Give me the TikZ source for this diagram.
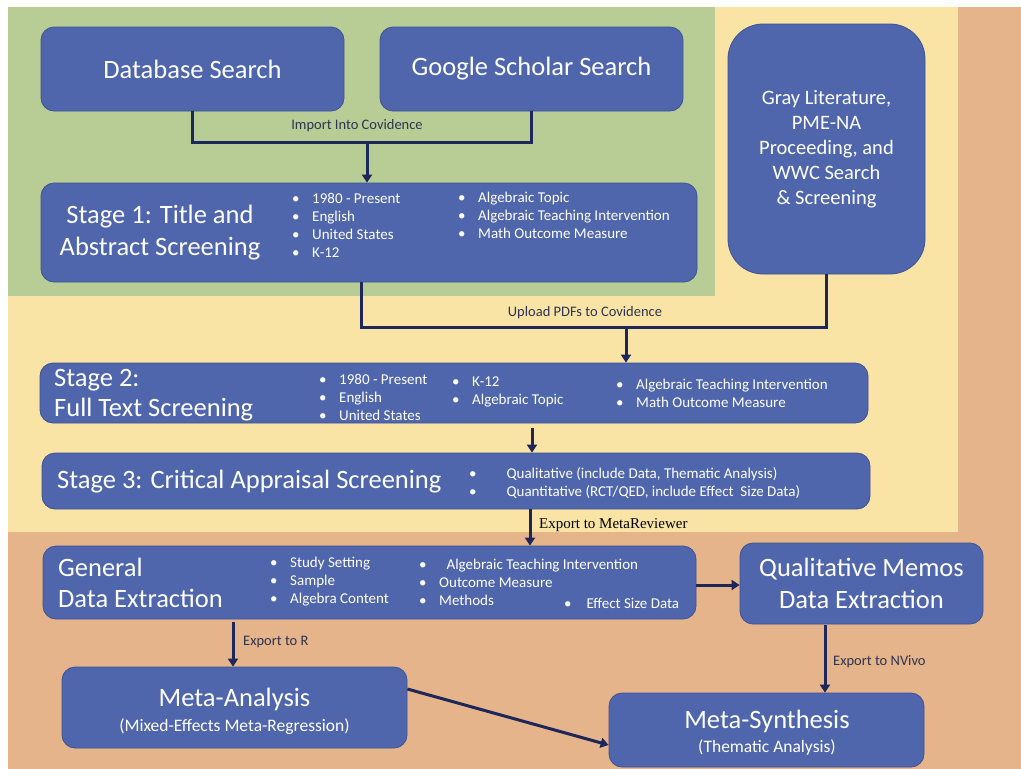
\documentclass[tikz,border=0pt]{standalone}
\usepackage{fontspec}
\setmainfont{Carlito}
\newfontfamily\serifface{Liberation Serif}
\usetikzlibrary{arrows.meta}
\definecolor{bluebox}{HTML}{4F66AD}
\definecolor{boxline}{HTML}{3E5394}
\definecolor{bggreen}{HTML}{B8CD95}
\definecolor{bgyellow}{HTML}{F9E4A6}
\definecolor{bgorange}{HTML}{E5B48B}
\definecolor{navy}{HTML}{1E2759}
\definecolor{labgray}{HTML}{2E344F}
\newcommand\bl[1][20]{\makebox[#1pt][l]{•}}
\begin{document}
\begin{tikzpicture}[x=1pt,y=-1pt,
  box/.style={draw=boxline, fill=bluebox, rounded corners=13pt, inner sep=0pt, line width=0.8pt, text=white},
  wtext/.style={text=white, inner sep=0pt},
  conn/.style={draw=navy, line width=3pt},
  arr/.style={conn, -{Triangle[width=10pt,length=8pt]}},
  lab/.style={text=labgray, inner sep=0pt, font=\fontsize{14.5}{17}\selectfont},
  big/.style={font=\fontsize{26.5}{32}\selectfont},
  small/.style={font=\fontsize{15}{18}\selectfont, align=left, anchor=west},
]
\useasboundingbox (0,0) rectangle (1021,769);
% backgrounds
\fill[white] (0,0) rectangle (1021,769);
\fill[bgorange] (8,7) rectangle (1021,769);
\fill[bgyellow] (8,7) rectangle (958,532);
\fill[bggreen] (8,7) rectangle (715,296);

% boxes
\node[box, big, minimum width=303pt, minimum height=84pt] (db) at (192.5,69) {Database Search};
\node[box, big, minimum width=303pt, minimum height=84pt] (gs) at (531.5,69) {Google Scholar Search};
\node[box, rounded corners=35pt, minimum width=197pt, minimum height=250pt,
      font=\fontsize{20.5}{25}\selectfont, align=center] (gray) at (826.5,149)
      {Gray Literature,\\PME-NA\\Proceeding, and\\WWC Search\\\& Screening};
\node[box, minimum width=656pt, minimum height=99pt] (s1) at (369,232.5) {};
\node[box, minimum width=828pt, minimum height=60pt] (s2) at (454,393) {};
\node[box, minimum width=828pt, minimum height=56pt] (s3) at (456,481) {};
\node[box, minimum width=653pt, minimum height=73pt] (gde) at (369.5,582.5) {};
\node[box, big, minimum width=243pt, minimum height=81pt, align=center] (qm) at (861.5,583.5)
      {Qualitative Memos\\Data Extraction};
\node[box, minimum width=345pt, minimum height=81pt] (ma) at (234.5,707.5) {};
\node[box, minimum width=315pt, minimum height=74pt] (ms) at (766.5,730) {};

% Stage 1 texts
\node[wtext, big, align=center] (s1t) at (160,233) {Stage 1: Title and\\Abstract Screening};
\node[wtext, small] (s1a) at (292,225) {\bl 1980 - Present\\\bl English\\\bl United States\\\bl K-12};
\node[wtext, small] (s1b) at (458,215.5) {\bl Algebraic Topic\\\bl Algebraic Teaching Intervention\\\bl Math Outcome Measure};

% Stage 2 texts
\node[wtext, big, align=left, anchor=west, font=\fontsize{26.5}{30}\selectfont] (s2t) at (54,395) {Stage 2:\\Full Text Screening};
\node[wtext, small] (s2a) at (319,397) {\bl 1980 - Present\\\bl English\\\bl United States};
\node[wtext, small] (s2b) at (452,392) {\bl K-12\\\bl Algebraic Topic};
\node[wtext, small] (s2c) at (616,393) {\bl Algebraic Teaching Intervention\\\bl Math Outcome Measure};

% Stage 3 texts
\node[wtext, big, anchor=west] (s3t) at (57,482) {Stage 3: Critical Appraisal Screening};
\node[wtext, small] (s3a) at (469,483) {\bl[34] Qualitative (include Data, Thematic Analysis)\\\bl[34] Quantitative (RCT/QED, include Effect\ \ Size Data)};

% General data extraction texts
\node[wtext, big, align=left, anchor=west, font=\fontsize{26.5}{31}\selectfont] (gdet) at (58,583) {General\\Data Extraction};
\node[wtext, small] (gdea) at (270,582) {\bl Study Setting\\\bl Sample\\\bl Algebra Content};
\node[wtext, small] (gdeb) at (419,582) {\bl[24] Algebraic Teaching Intervention\\\bl Outcome Measure\\\bl Methods};
\node[wtext, small] (gdec) at (564,603) {\bl[19] Effect Size Data};

% Meta-analysis / synthesis texts
\node[wtext, big] (mat) at (234.5,699) {Meta-Analysis};
\node[wtext, font=\fontsize{17.5}{21}\selectfont] (mas) at (234.5,727) {(Mixed-Effects Meta-Regression)};
\node[wtext, big] (mst) at (767,721) {Meta-Synthesis};
\node[wtext, font=\fontsize{17.5}{21}\selectfont] (mss) at (767,748) {(Thematic Analysis)};

% connectors
\coordinate (j1) at (367,142);
\draw[conn] (db.south) |- (j1) -| (gs.south);
\draw[arr] (j1) -- (j1 |- s1.north);
\node[lab] (l1) at (357,126) {Import Into Covidence};

\coordinate (c2) at (361,327);
\coordinate (j2) at (626,327);
\draw[conn] (c2 |- s1.south) -- (c2) -| (gray.south);
\draw[arr] (j2) -- (j2 |- s2.north);
\node[lab] (l2) at (585,313) {Upload PDFs to Covidence};

\coordinate (j3) at (532,428);
\draw[arr] (j3) -- (j3 |- s3.north);

\coordinate (j4) at (530,509);
\draw[arr] (j4 |- s3.south) -- (j4 |- gde.north);
\node[inner sep=0pt, anchor=west, text=black, font=\serifface\fontsize{15}{18}\selectfont] (l4) at (539,525) {Export to MetaReviewer};

\coordinate (j7) at (696,585);
\draw[arr] (j7) -- (j7 -| qm.west);

\coordinate (j5) at (825,625);
\draw[arr] (j5) -- (j5 |- ms.north);
\node[lab, anchor=west] (l5) at (833,662) {Export to NVivo};

\coordinate (j6) at (233,622);
\draw[arr] (j6) -- (j6 |- ma.north);
\node[lab, anchor=west] (l6) at (243,642) {Export to R};

\coordinate (p1) at (407,689);
\coordinate (p2) at (609,745);
\draw[arr] (ma.east |- p1) -- (ms.west |- p2);
\end{tikzpicture}
\end{document}
